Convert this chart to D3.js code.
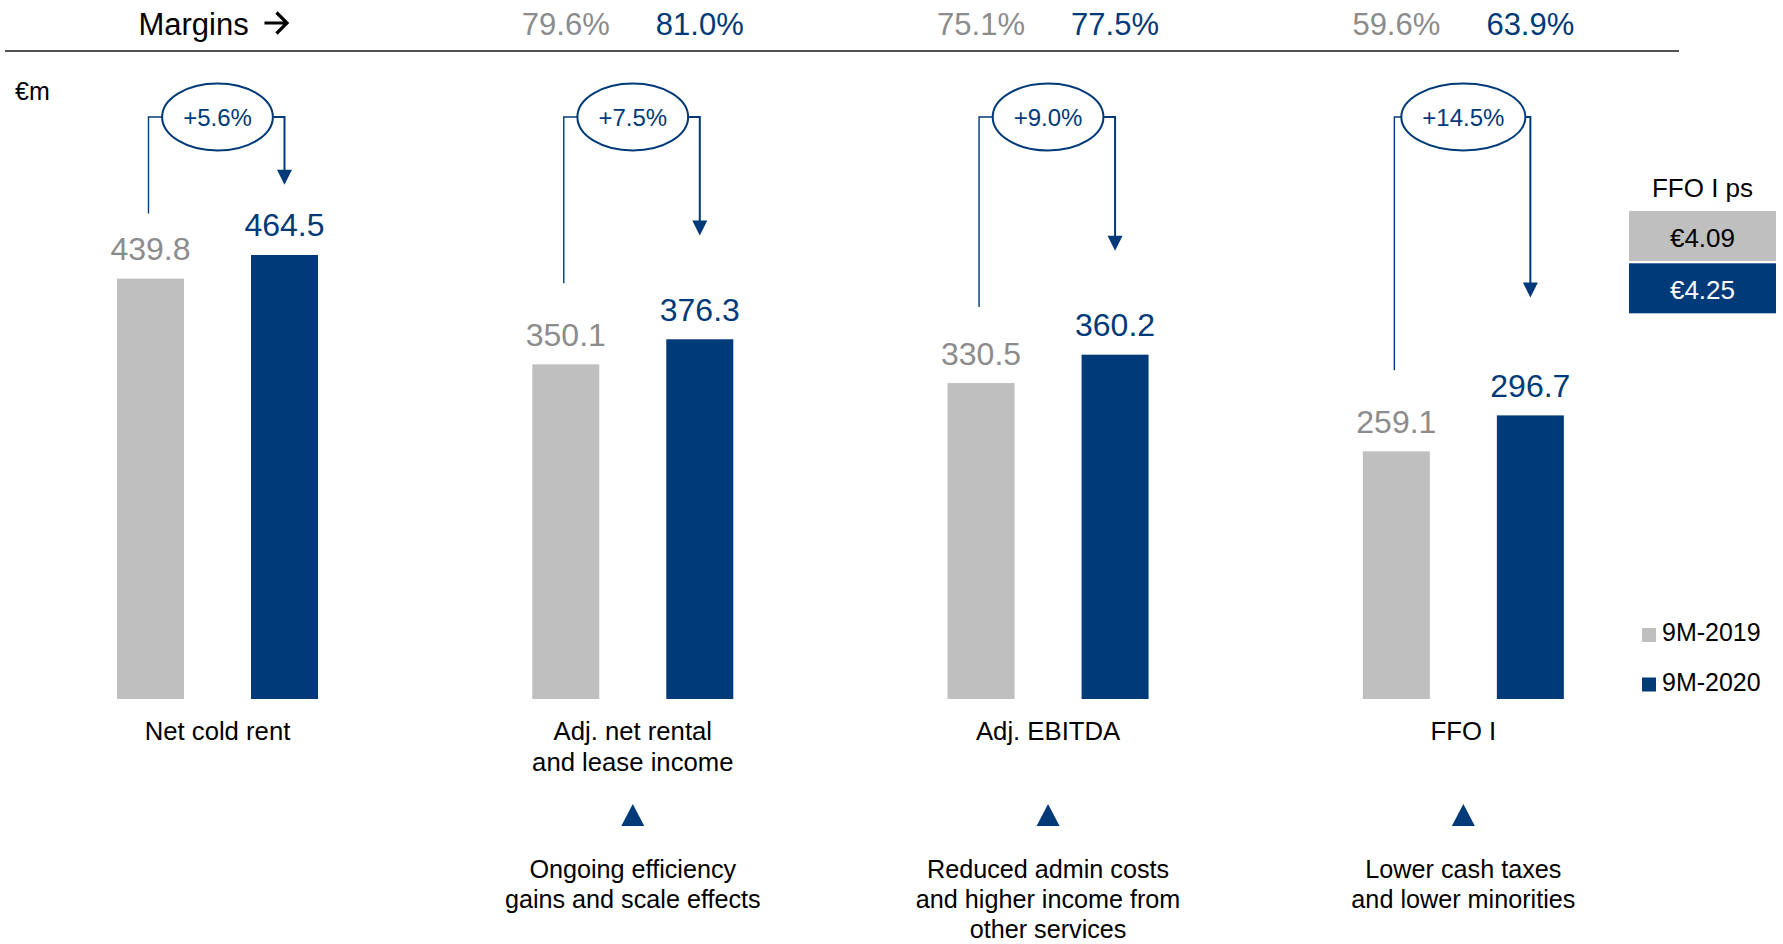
<!DOCTYPE html>
<html>
<head>
<meta charset="utf-8">
<script src="https://cdn.jsdelivr.net/npm/d3@7"></script>
<style>
  html, body { margin: 0; padding: 0; background: #ffffff; }
  svg { display: block; font-family: "Liberation Sans", Arial, sans-serif; }
</style>
</head>
<body>
<svg id="chart" width="1783" height="944"></svg>
<script>
// ---- data ----
const categories = ["Net cold rent", "Adj. net rental and lease income", "Adj. EBITDA", "FFO I"];
const categoryLines = [["Net cold rent"], ["Adj. net rental", "and lease income"], ["Adj. EBITDA"], ["FFO I"]];
const series = ["9M-2019", "9M-2020"];
const values2019 = [439.8, 350.1, 330.5, 259.1];
const values2020 = [464.5, 376.3, 360.2, 296.7];
const growthLabels = ["+5.6%", "+7.5%", "+9.0%", "+14.5%"];
const margins2019 = ["", "79.6%", "75.1%", "59.6%"];
const margins2020 = ["", "81.0%", "77.5%", "63.9%"];
// value-axis levels (€m) where the growth connectors end
const bracketStartLevel = [508, 435, 410, 344];
const arrowTipLevel = [538, 485, 469, 420];
const drivers = [[], ["Ongoing efficiency", "gains and scale effects"], ["Reduced admin costs", "and higher income from", "other services"], ["Lower cash taxes", "and lower minorities"]];
const ffoTitle = "FFO I ps";
const ffoValues = ["€4.09", "€4.25"];
const unitLabel = "€m";

// ---- styles ----
const BLUE = "#003a78";
const GREY = "#bfbfbf";
const GREY_TXT = "#8c8c8c";
const colors = { "9M-2019": GREY, "9M-2020": BLUE };
const txtColors = { "9M-2019": GREY_TXT, "9M-2020": BLUE };

const svg = d3.select("#chart");

// ---- scales ----
const x0 = d3.scaleBand().domain(categories).range([9.85, 1671]);
const x1 = d3.scaleBand().domain(series).range([-100.5, 100.5]).paddingInner(0.5).paddingOuter(0);
const y = d3.scaleLinear().domain([0, 500]).range([699, 699 - 500 * 0.9559]);

const rows = categories.map((c, i) => ({
  cat: c, i,
  vals: [{ s: series[0], v: values2019[i] }, { s: series[1], v: values2020[i] }]
}));
const gc = c => x0(c) + x0.bandwidth() / 2;          // group centre
const bc = (c, s) => gc(c) + x1(s) + x1.bandwidth() / 2; // bar centre

// ---- header ----
const marginsX = gc(categories[0]) - 79;
svg.append("text").attr("x", marginsX).attr("y", 35)
  .attr("font-size", 31).attr("fill", "#000").text("Margins");
svg.append("path")
  .attr("d", `M${marginsX + 126},23 H${marginsX + 148} M${marginsX + 138},12.5 L${marginsX + 148.5},23 L${marginsX + 138},33.5`)
  .attr("fill", "none").attr("stroke", "#000").attr("stroke-width", 3.2);

rows.forEach(r => {
  [margins2019, margins2020].forEach((m, k) => {
    if (!m[r.i]) return;
    svg.append("text").attr("x", bc(r.cat, series[k])).attr("y", 35)
      .attr("text-anchor", "middle").attr("font-size", 31)
      .attr("fill", txtColors[series[k]]).text(m[r.i]);
  });
});
svg.append("line").attr("x1", 5).attr("x2", 1679).attr("y1", 51).attr("y2", 51)
  .attr("stroke", "#1a1a1a").attr("stroke-width", 1.6);

svg.append("text").attr("x", 15).attr("y", 100).attr("font-size", 25).attr("fill", "#000").text(unitLabel);

// ---- bars ----
const g = svg.append("g");
const grp = g.selectAll("g.grp").data(rows).join("g").attr("class", "grp");
grp.selectAll("rect").data(d => d.vals.map(v => ({ ...v, cat: d.cat })))
  .join("rect")
  .attr("x", d => gc(d.cat) + x1(d.s))
  .attr("width", x1.bandwidth())
  .attr("y", d => y(d.v))
  .attr("height", d => y(0) - y(d.v))
  .attr("fill", d => colors[d.s]);
grp.selectAll("text.val").data(d => d.vals.map(v => ({ ...v, cat: d.cat })))
  .join("text").attr("class", "val")
  .attr("x", d => bc(d.cat, d.s))
  .attr("y", d => y(d.v) - 18.5)
  .attr("text-anchor", "middle").attr("font-size", 32)
  .attr("fill", d => txtColors[d.s])
  .text(d => d3.format(".1f")(d.v));

// ---- growth connectors ----
const cy = 117;
rows.forEach(r => {
  const cx = gc(r.cat);
  const t = svg.append("text").attr("x", cx).attr("y", cy + 9)
    .attr("text-anchor", "middle").attr("font-size", 24).attr("fill", BLUE)
    .text(growthLabels[r.i]);
  const w = t.node().getComputedTextLength();
  const rx = w / 2 + 21, ry = 33.5;
  svg.insert("ellipse", "text").attr("cx", cx).attr("cy", cy).attr("rx", rx).attr("ry", ry)
    .attr("fill", "#fff").attr("stroke", BLUE).attr("stroke-width", 2);
  const xl = bc(r.cat, series[0]) - 2;
  const xr = bc(r.cat, series[1]);
  svg.append("path")
    .attr("d", `M${xl},${y(bracketStartLevel[r.i])} V${cy} H${cx - rx}`)
    .attr("fill", "none").attr("stroke", BLUE).attr("stroke-width", 1.4);
  const tip = y(arrowTipLevel[r.i]);
  svg.append("path")
    .attr("d", `M${cx + rx},${cy} H${xr} V${tip - 12}`)
    .attr("fill", "none").attr("stroke", BLUE).attr("stroke-width", 2);
  svg.append("path")
    .attr("d", `M${xr - 7.5},${tip - 15} L${xr + 7.5},${tip - 15} L${xr},${tip} Z`)
    .attr("fill", BLUE);
});

// ---- category labels ----
rows.forEach(r => {
  categoryLines[r.i].forEach((ln, k) => {
    svg.append("text").attr("x", gc(r.cat)).attr("y", 739.5 + k * 31)
      .attr("text-anchor", "middle").attr("font-size", 25.7).attr("fill", "#000").text(ln);
  });
  if (drivers[r.i].length) {
    const cx = gc(r.cat);
    svg.append("path").attr("d", `M${cx - 11.5},826 L${cx + 11.5},826 L${cx},804 Z`).attr("fill", BLUE);
    drivers[r.i].forEach((ln, k) => {
      svg.append("text").attr("x", cx).attr("y", 877.5 + k * 30.3)
        .attr("text-anchor", "middle").attr("font-size", 25.2).attr("fill", "#000").text(ln);
    });
  }
});

// ---- FFO I per share box ----
const boxX = 1629, boxW = 147;
svg.append("text").attr("x", boxX + boxW / 2).attr("y", 197).attr("text-anchor", "middle")
  .attr("font-size", 26).attr("fill", "#000").text(ffoTitle);
ffoValues.forEach((v, k) => {
  const top = 211 + k * 52.3;
  svg.append("rect").attr("x", boxX).attr("y", top).attr("width", boxW).attr("height", 50)
    .attr("fill", colors[series[k]]);
  svg.append("text").attr("x", boxX + boxW / 2).attr("y", top + 35.5).attr("text-anchor", "middle")
    .attr("font-size", 26).attr("fill", k === 0 ? "#000" : "#fff").text(v);
});

// ---- legend ----
series.forEach((s, k) => {
  const ly = 628 + k * 49.5;
  svg.append("rect").attr("x", 1642).attr("y", ly).attr("width", 14).attr("height", 14).attr("fill", colors[s]);
  svg.append("text").attr("x", 1662).attr("y", ly + 13).attr("font-size", 25).attr("fill", "#000").text(s);
});
</script>
</body>
</html>
